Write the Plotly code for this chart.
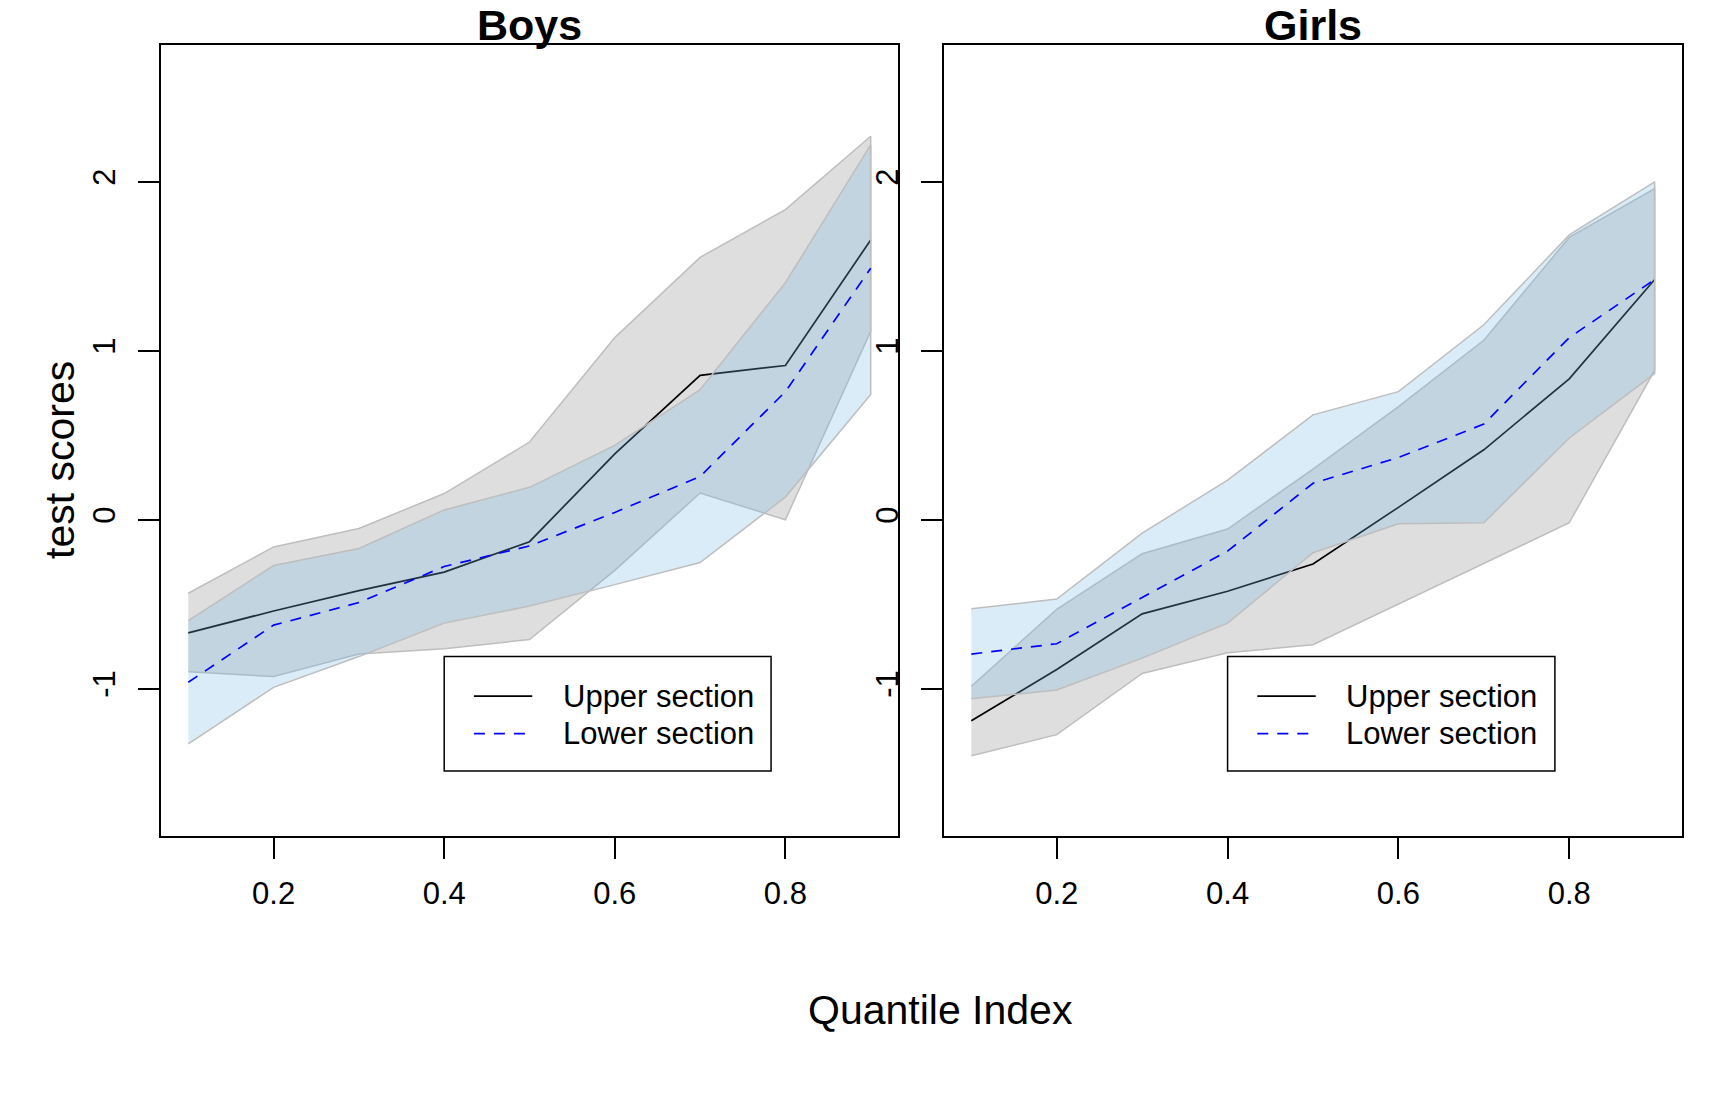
import plotly.graph_objects as go

# ---------------- data ----------------
quantiles = [0.1, 0.2, 0.3, 0.4, 0.5, 0.6, 0.7, 0.8, 0.9]

boys_upper_est = [-0.67, -0.54, -0.42, -0.31, -0.13, 0.39, 0.855, 0.913, 1.656]
boys_upper_hi = [-0.435, -0.161, -0.052, 0.155, 0.46, 1.078, 1.553, 1.836, 2.27]
boys_upper_lo = [-0.90, -0.928, -0.795, -0.764, -0.709, -0.30, 0.158, 0.0, 1.115]
boys_lower_est = [-0.962, -0.624, -0.49, -0.277, -0.155, 0.043, 0.256, 0.758, 1.489]
boys_lower_hi = [-0.597, -0.271, -0.170, 0.058, 0.192, 0.44, 0.77, 1.403, 2.219]
boys_lower_lo = [-1.327, -0.992, -0.81, -0.612, -0.511, -0.384, -0.253, 0.134, 0.742]

girls_upper_est = [-1.19, -0.886, -0.557, -0.423, -0.262, 0.073, 0.414, 0.834, 1.422]
girls_upper_hi = [-0.986, -0.53, -0.201, -0.055, 0.30, 0.67, 1.062, 1.671, 1.96]
girls_upper_lo = [-1.397, -1.272, -0.91, -0.788, -0.74, -0.499, -0.259, -0.018, 0.885]
girls_lower_est = [-0.795, -0.734, -0.46, -0.186, 0.216, 0.368, 0.566, 1.078, 1.422]
girls_lower_hi = [-0.527, -0.469, -0.079, 0.234, 0.621, 0.758, 1.154, 1.686, 2.0]
girls_lower_lo = [-1.059, -1.008, -0.819, -0.612, -0.195, -0.024, -0.018, 0.484, 0.865]

panel_titles = ["Boys", "Girls"]
series_names = ["Upper section", "Lower section"]
x_tick_vals = [0.2, 0.4, 0.6, 0.8]
x_tick_text = ["0.2", "0.4", "0.6", "0.8"]
y_tick_vals = [-1, 0, 1, 2]
y_tick_text = ["-1", "0", "1", "2"]

# ---------------- styles ----------------
FONT = "Liberation Sans, Arial, Helvetica, sans-serif"
GRAY_FILL = "rgba(190,190,190,0.5)"
BLUE_FILL = "rgba(116,186,224,0.27)"
EDGE = "#BEBEBE"
DASH = "11px,9px"

fig = go.Figure()


def add_panel(xa, ya, up_est, up_lo, up_hi, lo_est, lo_lo, lo_hi):
    fig.add_trace(go.Scatter(
        x=quantiles + quantiles[::-1], y=up_hi + up_lo[::-1],
        fill="toself", fillcolor=GRAY_FILL, mode="lines",
        line=dict(color=EDGE, width=1.5), xaxis=xa, yaxis=ya,
        showlegend=False, hoverinfo="skip"))
    fig.add_trace(go.Scatter(
        x=quantiles, y=up_est, mode="lines", name=series_names[0],
        line=dict(color="black", width=1.7), xaxis=xa, yaxis=ya,
        showlegend=False))
    fig.add_trace(go.Scatter(
        x=quantiles + quantiles[::-1], y=lo_hi + lo_lo[::-1],
        fill="toself", fillcolor=BLUE_FILL, mode="lines",
        line=dict(color=EDGE, width=1.5), xaxis=xa, yaxis=ya,
        showlegend=False, hoverinfo="skip"))
    fig.add_trace(go.Scatter(
        x=quantiles, y=lo_est, mode="lines", name=series_names[1],
        line=dict(color="blue", width=1.7, dash=DASH), xaxis=xa, yaxis=ya,
        showlegend=False))


add_panel("x", "y", boys_upper_est, boys_upper_lo, boys_upper_hi,
          boys_lower_est, boys_lower_lo, boys_lower_hi)
add_panel("x2", "y2", girls_upper_est, girls_upper_lo, girls_upper_hi,
          girls_lower_est, girls_lower_lo, girls_lower_hi)

W, H = 1728, 1113
XR = [0.068, 0.932]
YR = [-1.872, 2.81]
ydom = [1 - 836 / H, 1 - 45 / H]
xdom1 = [161 / W, 898 / W]
xdom2 = [944 / W, 1682 / W]

common_x = dict(range=XR, tickvals=x_tick_vals, ticktext=x_tick_text,
                ticks="outside", ticklen=21, tickwidth=1.5, tickcolor="black",
                showline=True, linecolor="black", linewidth=1.5, mirror=True,
                showgrid=False, zeroline=False, ticklabelstandoff=8,
                tickfont=dict(family=FONT, size=31, color="black"))
common_y = dict(range=YR, tickvals=y_tick_vals, ticktext=y_tick_text,
                ticks="outside", ticklen=21, tickwidth=1.5, tickcolor="black",
                showline=True, linecolor="black", linewidth=1.5, mirror=True,
                showgrid=False, zeroline=False, tickangle=-90,
                ticklabelstandoff=11,
                tickfont=dict(family=FONT, size=31, color="black"))

fig.update_layout(
    width=W, height=H,
    margin=dict(l=0, r=0, t=0, b=0),
    paper_bgcolor="white", plot_bgcolor="white",
    showlegend=False,
    xaxis=dict(domain=xdom1, anchor="y", **common_x),
    yaxis=dict(domain=ydom, anchor="x", **common_y),
    xaxis2=dict(domain=xdom2, anchor="y2", **common_x),
    yaxis2=dict(domain=ydom, anchor="x2", **common_y),
)

annotations = []
shapes = []
for i, (xr, yr) in enumerate([("x", "y"), ("x2", "y2")]):
    dom = xdom1 if i == 0 else xdom2
    annotations.append(dict(
        text="<b>%s</b>" % panel_titles[i], xref="paper", yref="paper",
        x=(dom[0] + dom[1]) / 2, y=1 - 25 / H, xanchor="center",
        yanchor="middle", showarrow=False,
        font=dict(family=FONT, size=43, color="black")))
    # legend box
    shapes.append(dict(type="rect", xref=xr, yref=yr, x0=0.4, x1=0.7832,
                       y0=-1.487, y1=-0.809,
                       line=dict(color="black", width=1.5),
                       fillcolor="white", layer="above"))
    shapes.append(dict(type="line", xref=xr, yref=yr, x0=0.4348, x1=0.5032,
                       y0=-1.044, y1=-1.044,
                       line=dict(color="black", width=1.7), layer="above"))
    shapes.append(dict(type="line", xref=xr, yref=yr, x0=0.4348, x1=0.5032,
                       y0=-1.266, y1=-1.266,
                       line=dict(color="blue", width=1.7, dash=DASH),
                       layer="above"))
    for j, yy in enumerate([-1.044, -1.266]):
        annotations.append(dict(
            text=series_names[j], xref=xr, yref=yr, x=0.5368, y=yy,
            xanchor="left", yanchor="middle", showarrow=False,
            font=dict(family=FONT, size=31, color="black")))

annotations.append(dict(
    text="test scores", xref="paper", yref="paper", x=60 / W,
    y=1 - 460 / H, xanchor="center", yanchor="middle", textangle=-90,
    showarrow=False, font=dict(family=FONT, size=41, color="black")))
annotations.append(dict(
    text="Quantile Index", xref="paper", yref="paper", x=940 / W,
    y=1 - 1010 / H, xanchor="center", yanchor="middle", showarrow=False,
    font=dict(family=FONT, size=41, color="black")))

fig.update_layout(annotations=annotations, shapes=shapes)
fig.write_html("out.html",
               config={"displayModeBar": False},
               post_script="document.body.style.margin='0';"
                           "document.body.style.padding='0';")
